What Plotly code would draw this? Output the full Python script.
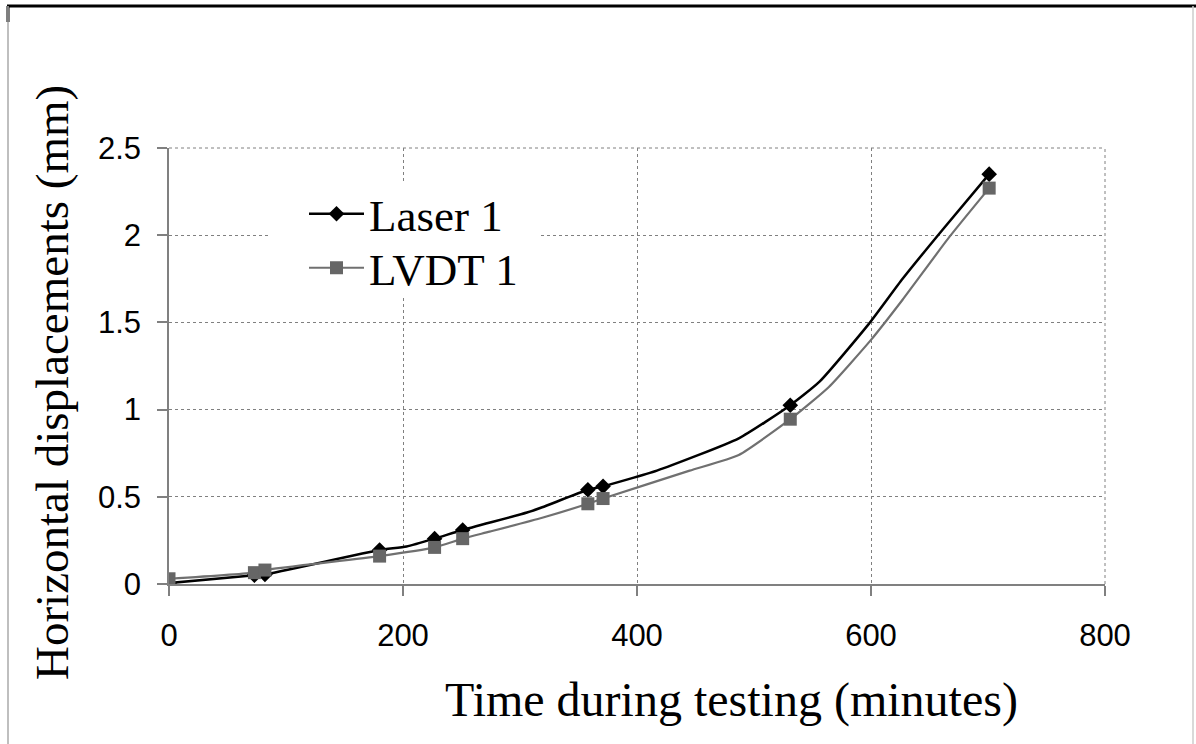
import plotly.graph_objects as go

# Laser 1: continuous trace and marker points (minutes, mm)
laser_t = [0, 73, 82, 180, 203, 227, 251, 306, 319, 358, 371, 417, 487, 531, 556, 598, 627, 661, 701]
laser_y = [0.005, 0.05, 0.055, 0.195, 0.215, 0.26, 0.31, 0.41, 0.44, 0.54, 0.56, 0.65, 0.835, 1.025, 1.16, 1.49, 1.75, 2.03, 2.35]
laser_mark_t = [0, 73, 82, 180, 227, 251, 358, 371, 531, 701]
laser_mark_y = [0.005, 0.05, 0.055, 0.195, 0.26, 0.31, 0.54, 0.56, 1.025, 2.35]

# LVDT 1
lvdt_t = [0, 73, 82, 180, 227, 251, 274, 319, 358, 371, 445, 487, 531, 564, 600, 627, 667, 701]
lvdt_y = [0.03, 0.065, 0.08, 0.16, 0.21, 0.26, 0.30, 0.38, 0.46, 0.49, 0.65, 0.74, 0.945, 1.13, 1.40, 1.63, 1.99, 2.27]
lvdt_mark_t = [0, 73, 82, 180, 227, 251, 358, 371, 531, 701]
lvdt_mark_y = [0.03, 0.065, 0.08, 0.16, 0.21, 0.26, 0.46, 0.49, 0.945, 2.27]

x_ticks = [0, 200, 400, 600, 800]
y_ticks = [0, 0.5, 1, 1.5, 2, 2.5]
y_tick_text = ["0", "0.5", "1", "1.5", "2", "2.5"]

LASER_C = "#000000"
LVDT_C = "#707070"
LVDT_M = "#666666"

fig = go.Figure()
fig.add_trace(go.Scatter(x=laser_t, y=laser_y, mode="lines",
                         line=dict(color=LASER_C, width=2.5, shape="spline", smoothing=0.5),
                         showlegend=False, hoverinfo="skip"))
fig.add_trace(go.Scatter(x=lvdt_t, y=lvdt_y, mode="lines",
                         line=dict(color=LVDT_C, width=2.2, shape="spline", smoothing=0.5),
                         showlegend=False, hoverinfo="skip"))
fig.add_trace(go.Scatter(x=laser_mark_t, y=laser_mark_y, mode="markers", name="Laser 1",
                         marker=dict(symbol="diamond", size=12, color=LASER_C), showlegend=False))
fig.add_trace(go.Scatter(x=lvdt_mark_t, y=lvdt_mark_y, mode="markers", name="LVDT 1",
                         marker=dict(symbol="square", size=13, color=LVDT_M), showlegend=False))
# legend entries (line + marker)
fig.add_trace(go.Scatter(x=[None], y=[None], mode="lines+markers", name="Laser 1", legend="legend",
                         line=dict(color=LASER_C, width=2.5),
                         marker=dict(symbol="diamond", size=12, color=LASER_C)))
fig.add_trace(go.Scatter(x=[None], y=[None], mode="lines+markers", name="LVDT 1", legend="legend2",
                         line=dict(color=LVDT_C, width=2.2),
                         marker=dict(symbol="square", size=13, color=LVDT_M)))

L, R, T, B = 169, 91, 148, 160
W, H = 1196, 744
pw, ph = W - L - R, H - T - B

def px(xp):
    return (xp - L) / pw

def py(yp):
    return (H - B - yp) / ph

grid = "#808080"
fig.update_xaxes(range=[0, 800], tickvals=x_ticks, showgrid=True, gridcolor=grid, griddash="dot", gridwidth=1,
                 showline=True, linecolor=grid, linewidth=1.5, zeroline=False,
                 ticks="outside", ticklen=10, tickcolor=grid, tickwidth=1.5, ticklabelstandoff=13,
                 tickfont=dict(family="Liberation Sans", size=31, color="black"))
fig.update_yaxes(range=[0, 2.5], tickvals=y_ticks, ticktext=y_tick_text, showgrid=True, gridcolor=grid,
                 griddash="dot", gridwidth=1, showline=True, linecolor=grid, linewidth=1.5, zeroline=False,
                 ticks="outside", ticklen=10, tickcolor=grid, tickwidth=1.5, ticklabelstandoff=10,
                 tickfont=dict(family="Liberation Sans", size=31, color="black"))

shapes = [
    dict(type="line", xref="paper", yref="paper", x0=0, x1=1, y0=1, y1=1,
         line=dict(color=grid, width=1, dash="dot")),
    dict(type="line", xref="paper", yref="paper", x0=1, x1=1, y0=0, y1=1,
         line=dict(color=grid, width=1, dash="dot")),
    # legend background
    dict(type="rect", xref="paper", yref="paper", x0=px(268), x1=px(540), y0=py(184), y1=py(295),
         fillcolor="white", line=dict(width=0), layer="above"),
    # outer frame
    dict(type="line", xref="paper", yref="paper", x0=px(7), x1=px(1196), y0=py(6), y1=py(6),
         line=dict(color="black", width=3)),
    dict(type="line", xref="paper", yref="paper", x0=px(8), x1=px(8), y0=py(6), y1=py(22),
         line=dict(color="black", width=3)),
    dict(type="line", xref="paper", yref="paper", x0=px(8), x1=px(8), y0=py(6), y1=py(744),
         line=dict(color="#aaaaaa", width=1.5)),
    dict(type="line", xref="paper", yref="paper", x0=px(1193), x1=px(1193), y0=py(6), y1=py(744),
         line=dict(color="#cccccc", width=1.5)),
]

annotations = [
    dict(text="Time during testing (minutes)", xref="paper", yref="paper", x=px(731), y=py(700),
         xanchor="center", yanchor="middle", showarrow=False,
         font=dict(family="Liberation Serif", size=48, color="black")),
    dict(text="Horizontal displacements (mm)", xref="paper", yref="paper", x=px(52), y=py(383),
         xanchor="center", yanchor="middle", showarrow=False, textangle=-90,
         font=dict(family="Liberation Serif", size=47, color="black")),
]

leg_common = dict(xanchor="left", yanchor="middle", bgcolor="rgba(0,0,0,0)",
                  font=dict(family="Liberation Serif", size=45, color="black"), itemwidth=55)

fig.update_layout(
    width=W, height=H, margin=dict(l=L, r=R, t=T, b=B),
    paper_bgcolor="white", plot_bgcolor="white",
    shapes=shapes, annotations=annotations,
    legend=dict(x=px(304), y=py(214), **leg_common),
    legend2=dict(x=px(304), y=py(268), **leg_common),
    showlegend=True,
)

fig.write_html("out.html")
